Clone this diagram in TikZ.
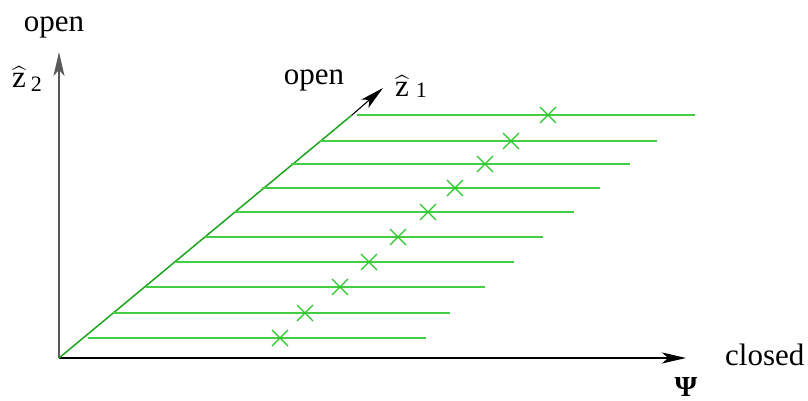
\documentclass[tikz,border=0pt]{standalone}
\usepackage{amsmath}
\usepackage{fontspec}
\setmainfont{Liberation Serif}
\usetikzlibrary{arrows.meta}
\definecolor{hgreen}{RGB}{70,205,70}
\definecolor{dgreen}{RGB}{30,165,30}
\definecolor{xgreen}{RGB}{40,200,40}
\definecolor{axgray}{RGB}{90,90,90}
\begin{document}
\begin{tikzpicture}[x=1pt,y=-1pt,
  axis/.style={line width=1.3pt},
  tip/.style={-{Stealth[length=24pt,width=11pt,inset=6pt]}},
  hline/.style={draw=hgreen,line width=1.6pt},
  cross/.style={draw=xgreen,line width=1.2pt},
  lbl/.style={inner sep=0pt,font=\fontsize{31}{36}\selectfont,anchor=base}]
\newcommand{\subtxt}[1]{{\fontsize{22}{26}\selectfont #1}}
\useasboundingbox (0,0) rectangle (808,401);
\coordinate (O) at (59,358);
\coordinate (Y) at (59,52);
\coordinate (X) at (686,358);
\coordinate (D) at (352,115);
\coordinate (T) at (383,88);
% axes
\draw[axis,draw=axgray,tip] (O) -- (Y);
\draw[axis,draw=black,tip] (O) -- (X);
\draw[line width=1.5pt,draw=dgreen] (O) -- (D);
\draw[line width=1.1pt,draw=black,tip] (D) -- (T);
% horizontal lines with crosses
\foreach \i/\y/\s/\e/\m in {1/115/357/695/548, 2/141/320/657/511, 3/164/291/630/485,
  4/188/262/600/455, 5/212/235/574/428, 6/237/205/543/398, 7/262/176/514/369,
  8/287/146/485/340, 9/313/113/450/305, 10/338/88/426/280}{
  \coordinate (s\i) at (\s,\y);
  \coordinate (e\i) at (\e,\y);
  \coordinate (m\i) at (\m,\y);
  \draw[hline] (s\i) -- (e\i);
  \draw[cross] ([shift={(-8,-8)}]m\i) -- ([shift={(8,8)}]m\i);
  \draw[cross] ([shift={(-8,8)}]m\i) -- ([shift={(8,-8)}]m\i);
}
% labels
\node[lbl] (open2) at (54,32) {open};
\node[lbl] (open1) at (314,85) {open};
\node[lbl,anchor=base west] (closed) at (725,365) {closed};
\node[inner sep=0pt,anchor=base,font=\fontsize{29}{34}\selectfont\bfseries] (psi) at (686,396) {Ψ};
\node[lbl,anchor=base west] (z2) at (12,88) {\(\widehat{\text{z}}\)\hspace{5pt}\raisebox{-4pt}{\subtxt{2}}};
\node[lbl,anchor=base west] (z1) at (395,97) {\(\widehat{\text{z}}\)\hspace{7pt}\raisebox{-1pt}{\subtxt{1}}};
\end{tikzpicture}
\end{document}
